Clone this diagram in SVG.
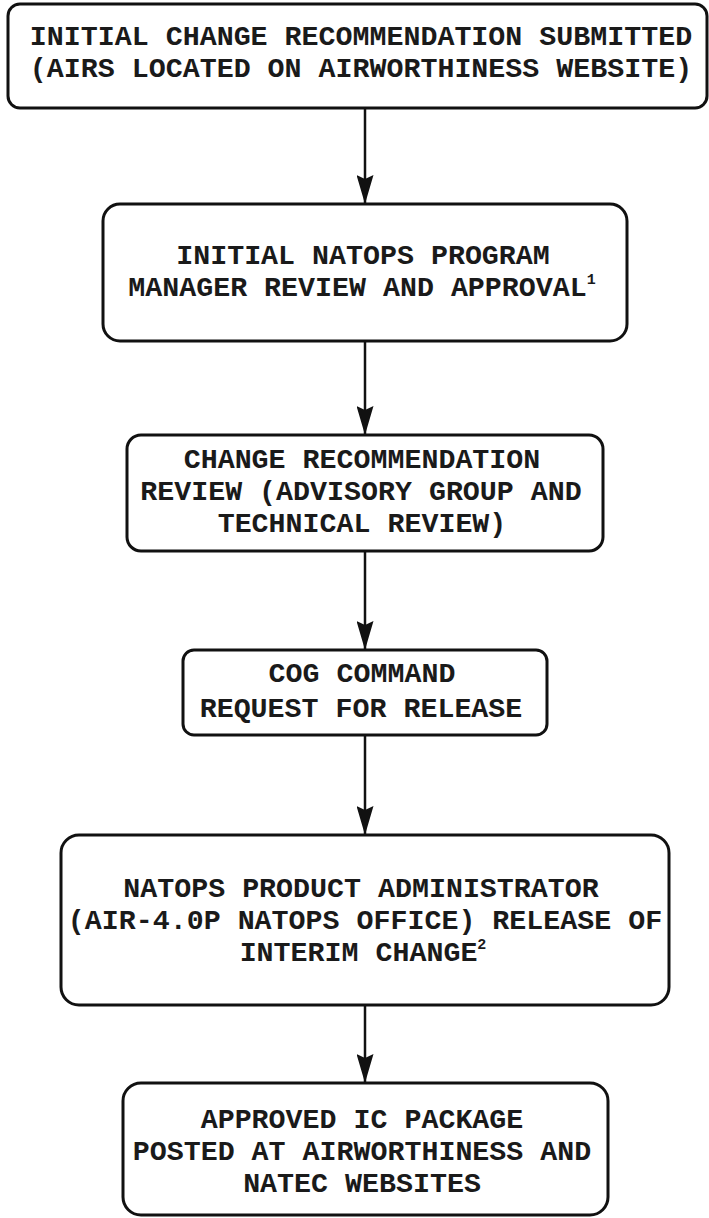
<svg xmlns="http://www.w3.org/2000/svg" width="709" height="1218" viewBox="0 0 709 1218">
<style>
.box{fill:#fff;stroke:#111;stroke-width:3}
.t{font-family:"Liberation Mono","Courier New",monospace;font-weight:bold;font-size:28.3px;fill:#1a1a1a;text-anchor:middle}
.sup{font-size:15px}
.c{stroke:#111;stroke-width:2.5;fill:none}
</style>
<defs>
<marker id="ah" markerUnits="userSpaceOnUse" markerWidth="29" markerHeight="17" refX="29" refY="8.5" orient="auto" viewBox="0 0 29 17">
<path d="M0,0 L29,8.5 L0,17 L4,8.5 Z" fill="#111"/>
</marker>
</defs>
<rect width="709" height="1218" fill="#fff"/>
<g id="connectors">
<line class="c" x1="365" y1="108" x2="365" y2="204" marker-end="url(#ah)"/>
<line class="c" x1="365" y1="341" x2="365" y2="435" marker-end="url(#ah)"/>
<line class="c" x1="365" y1="551" x2="365" y2="650" marker-end="url(#ah)"/>
<line class="c" x1="365" y1="735" x2="365" y2="835" marker-end="url(#ah)"/>
<line class="c" x1="365" y1="1005" x2="365" y2="1083" marker-end="url(#ah)"/>
</g>
<g id="n1">
<rect class="box" x="8" y="4" width="699" height="104" rx="12"/>
<text class="t" x="361" y="45">INITIAL CHANGE RECOMMENDATION SUBMITTED</text>
<text class="t" x="361" y="77">(AIRS LOCATED ON AIRWORTHINESS WEBSITE)</text>
</g>
<g id="n2">
<rect class="box" x="103" y="204" width="524" height="137" rx="17"/>
<text class="t" x="363" y="264">INITIAL NATOPS PROGRAM</text>
<text class="t" x="362" y="296">MANAGER REVIEW AND APPROVAL<tspan class="sup" dy="-12">1</tspan></text>
</g>
<g id="n3">
<rect class="box" x="127" y="435" width="476" height="116" rx="14"/>
<text class="t" x="362" y="468">CHANGE RECOMMENDATION</text>
<text class="t" x="361" y="500">REVIEW (ADVISORY GROUP AND</text>
<text class="t" x="362" y="532">TECHNICAL REVIEW)</text>
</g>
<g id="n4">
<rect class="box" x="183" y="650" width="364" height="85" rx="11"/>
<text class="t" x="362" y="682">COG COMMAND</text>
<text class="t" x="361" y="717">REQUEST FOR RELEASE</text>
</g>
<g id="n5">
<rect class="box" x="61" y="835" width="608" height="170" rx="18"/>
<text class="t" x="361" y="897">NATOPS PRODUCT ADMINISTRATOR</text>
<text class="t" x="365" y="929">(AIR-4.0P NATOPS OFFICE) RELEASE OF</text>
<text class="t" x="363" y="961">INTERIM CHANGE<tspan class="sup" dy="-12">2</tspan></text>
</g>
<g id="n6">
<rect class="box" x="123" y="1083" width="485" height="132" rx="18"/>
<text class="t" x="362" y="1128">APPROVED IC PACKAGE</text>
<text class="t" x="362" y="1160">POSTED AT AIRWORTHINESS AND</text>
<text class="t" x="362" y="1192">NATEC WEBSITES</text>
</g>
</svg>
